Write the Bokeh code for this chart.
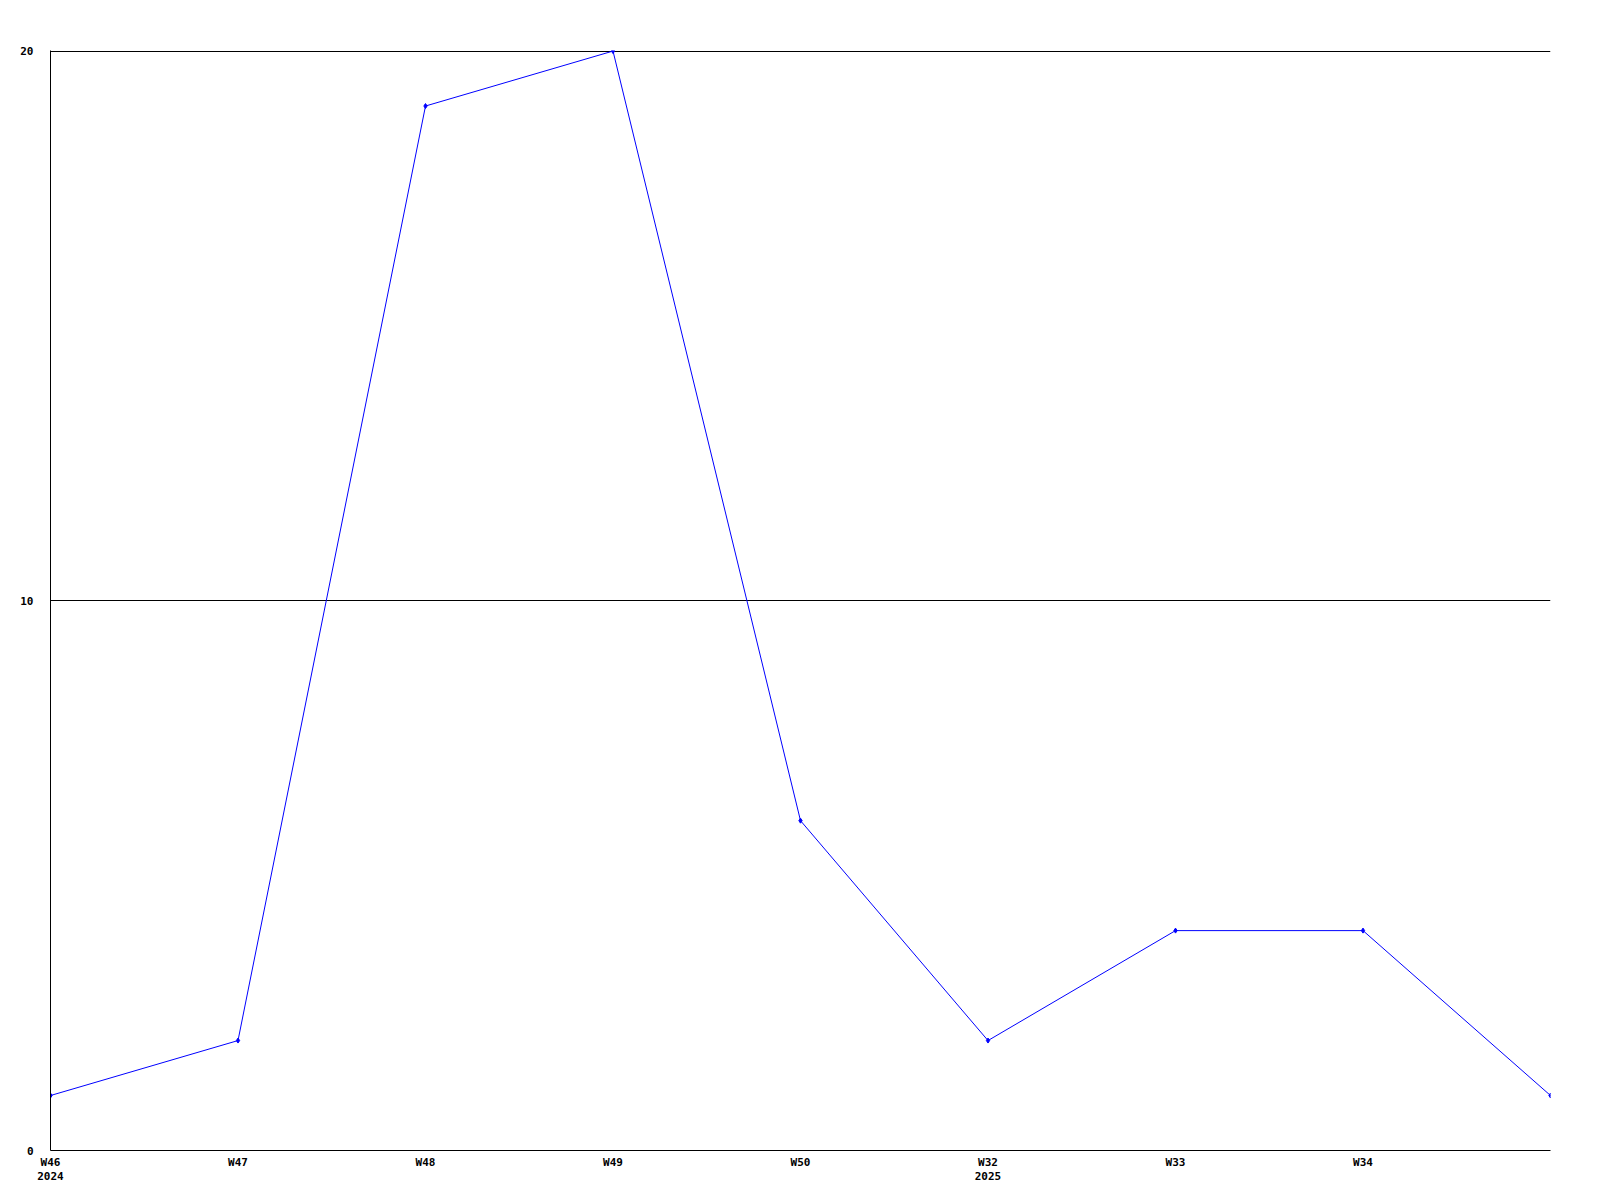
from bokeh.plotting import figure
from bokeh.models import ColumnDataSource, FixedTicker, Range1d
from bokeh.embed import file_html
from bokeh.resources import INLINE

weeks = ["W46", "W47", "W48", "W49", "W50", "W32", "W33", "W34", ""]
years = ["2024", "", "", "", "", "2025", "", "", ""]
values = [1, 2, 19, 20, 6, 2, 4, 4, 1]
y_ticks = [0, 10, 20]

idx = list(range(len(values)))
labels = [w + ("\n" + y if y else "") for w, y in zip(weeks, years)]
src = ColumnDataSource(dict(x=idx, y=values))

p = figure(width=1568, height=1192, output_backend="svg", toolbar_location=None,
           x_range=Range1d(0, len(values) - 1), y_range=Range1d(0, 20.01),
           min_border_left=50, min_border_top=50, min_border_right=18, min_border_bottom=42)
p.outline_line_color = None
p.background_fill_color = "white"
p.border_fill_color = "white"

p.line("x", "y", source=src, line_color="#0000ff", line_width=1)
p.scatter("x", "y", source=src, marker="diamond", size=5, fill_color="#0000ff", line_color="#0000ff")

font = "DejaVu Sans Mono"

p.xgrid.grid_line_color = None
p.ygrid.ticker = FixedTicker(ticks=y_ticks)
p.ygrid.grid_line_color = "black"
p.ygrid.grid_line_width = 1

p.yaxis.ticker = FixedTicker(ticks=y_ticks)
p.yaxis.major_tick_line_color = None
p.yaxis.minor_tick_line_color = None
p.yaxis.major_tick_out = 0
p.yaxis.major_label_standoff = 17
p.yaxis.major_label_text_align = "left"
p.yaxis.major_label_text_font = font
p.yaxis.major_label_text_font_style = "bold"
p.yaxis.major_label_text_font_size = "11px"
p.yaxis.major_label_text_color = "black"
p.yaxis.axis_line_color = "black"

p.xaxis.ticker = FixedTicker(ticks=idx)
p.xaxis.major_label_overrides = {i: l for i, l in zip(idx, labels)}
p.xaxis.major_tick_line_color = None
p.xaxis.minor_tick_line_color = None
p.xaxis.major_tick_out = 0
p.xaxis.major_label_standoff = 5
p.xaxis.major_label_text_font = font
p.xaxis.major_label_text_font_style = "bold"
p.xaxis.major_label_text_font_size = "11px"
p.xaxis.major_label_text_color = "black"
p.xaxis.major_label_text_line_height = 1.15
p.xaxis.axis_line_color = "black"

open("out.html", "w").write(file_html(p, INLINE))
